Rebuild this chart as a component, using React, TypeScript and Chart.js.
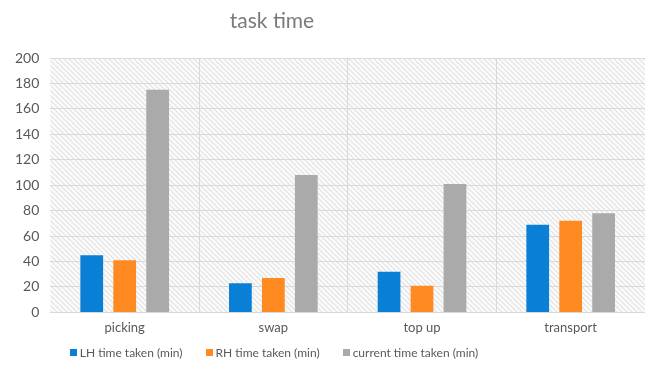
import React, { useEffect, useRef } from "react";
import { Chart, registerables } from "chart.js";

Chart.register(...registerables);

const title = "task time";
const categories = ["picking", "swap", "top up", "transport"];
const lhTime = [45, 23, 32, 69];
const rhTime = [41, 27, 21, 72];
const currentTime = [175, 108, 101, 78];
const seriesLabels = ["LH time taken (min)", "RH time taken (min)", "current time taken (min)"];
const seriesColors = ["#0a7fd6", "#ff8a21", "#aaaaaa"];
const yTicks = { min: 0, max: 200, step: 20 };

const FONT = "Lato, 'Open Sans', sans-serif";

function makePattern(): CanvasPattern | string {
  const c = document.createElement("canvas");
  const s = 5;
  c.width = s;
  c.height = s;
  const g = c.getContext("2d");
  if (!g) return "#f2f2f2";
  g.fillStyle = "#fbfbfb";
  g.fillRect(0, 0, s, s);
  g.strokeStyle = "#e2e2e2";
  g.lineWidth = 1.2;
  g.beginPath();
  g.moveTo(-1, -1);
  g.lineTo(s + 1, s + 1);
  g.moveTo(-1, s - 1);
  g.lineTo(1, s + 1);
  g.moveTo(s - 1, -1);
  g.lineTo(s + 1, 1);
  g.stroke();
  const p = g.createPattern(c, "repeat");
  return p || "#f2f2f2";
}

const bgPlugin = {
  id: "hatchBg",
  beforeDraw(chart: any) {
    const { ctx, chartArea } = chart;
    if (!chartArea) return;
    ctx.save();
    ctx.fillStyle = makePattern();
    ctx.fillRect(chartArea.left, chartArea.top, chartArea.right - chartArea.left, chartArea.bottom - chartArea.top);
    ctx.restore();
  },
};

export default function App() {
  const ref = useRef<HTMLCanvasElement>(null);
  useEffect(() => {
    if (!ref.current) return;
    const chart = new Chart(ref.current, {
      type: "bar",
      data: {
        labels: categories,
        datasets: [
          { label: seriesLabels[0], data: lhTime, backgroundColor: seriesColors[0] },
          { label: seriesLabels[1], data: rhTime, backgroundColor: seriesColors[1] },
          { label: seriesLabels[2], data: currentTime, backgroundColor: seriesColors[2] },
        ],
      },
      options: {
        animation: false,
        responsive: false,
        maintainAspectRatio: false,
        layout: { padding: { left: 4, right: 4, top: 58, bottom: 33 } },
        datasets: { bar: { categoryPercentage: 0.665, barPercentage: 0.69 } },
        plugins: {
          title: { display: false },
          legend: { display: false },
          tooltip: { enabled: false },
        },
        scales: {
          x: {
            grid: {
              offset: true,
              color: (ctx: any) => (ctx.index >= 1 && ctx.index <= 3 ? "#d9d9d9" : "rgba(0,0,0,0)"),
              drawTicks: false,
            },
            border: { display: false },
            ticks: { color: "#595959", font: { family: FONT, size: 13 }, padding: 8 },
          },
          y: {
            min: yTicks.min,
            max: yTicks.max,
            grid: { color: "#d9d9d9", drawTicks: false },
            border: { display: false },
            ticks: { stepSize: yTicks.step, color: "#595959", font: { family: FONT, size: 14 }, padding: 11 },
          },
        },
      },
      plugins: [bgPlugin],
    } as any);
    return () => chart.destroy();
  }, []);
  return (
    <div style={{ position: "fixed", left: 0, top: 0, width: 649, height: 377, background: "#fff" }}>
      <div
        style={{
          position: "absolute",
          left: 0,
          top: 6,
          width: 544,
          textAlign: "center",
          fontFamily: FONT,
          fontSize: 21,
          color: "#7a7a7a",
          lineHeight: "28px",
        }}
      >
        {title}
      </div>
      <canvas ref={ref} width={649} height={377} style={{ display: "block" }} />
      <div
        style={{
          position: "absolute",
          left: 0,
          top: 344,
          width: 548,
          height: 16,
          display: "flex",
          justifyContent: "center",
          alignItems: "center",
          gap: 23,
          fontFamily: FONT,
          fontSize: 12,
          color: "#595959",
          whiteSpace: "nowrap",
        }}
      >
        {seriesLabels.map((lab, i) => (
          <div key={lab} style={{ display: "flex", alignItems: "center" }}>
            <span style={{ display: "inline-block", width: 7, height: 7, background: seriesColors[i], marginRight: 3 }} />
            <span>{lab}</span>
          </div>
        ))}
      </div>
    </div>
  );
}
